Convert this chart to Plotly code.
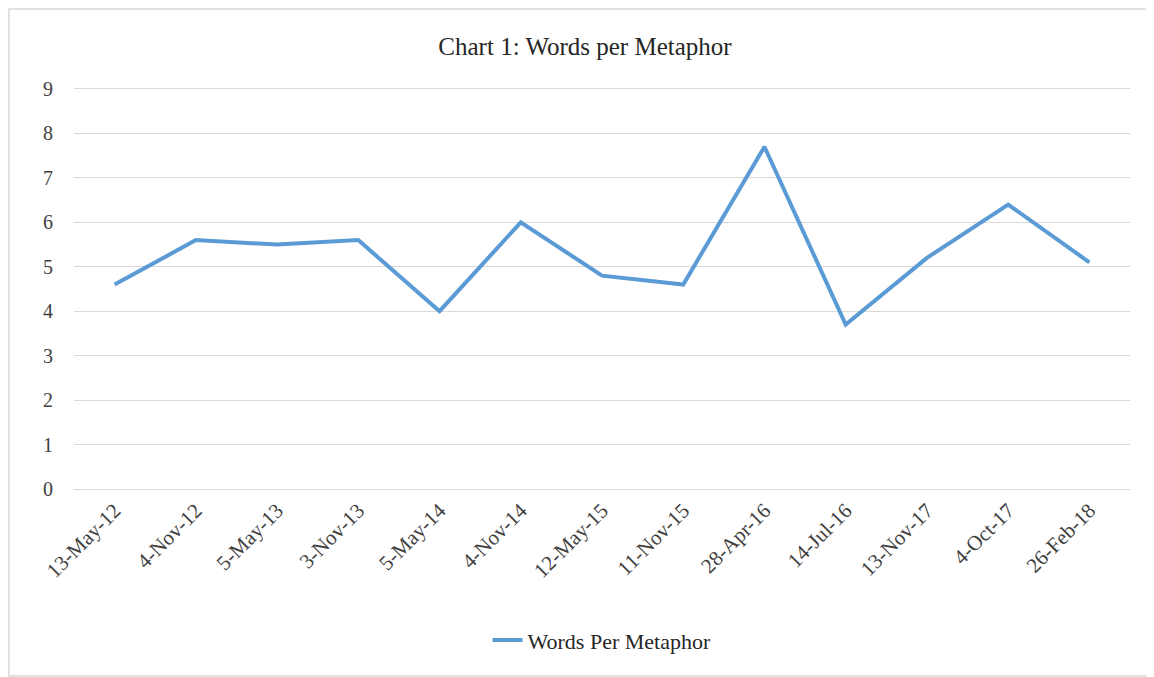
import plotly.graph_objs as go

dates = ['13-May-12', '4-Nov-12', '5-May-13', '3-Nov-13', '5-May-14', '4-Nov-14',
         '12-May-15', '11-Nov-15', '28-Apr-16', '14-Jul-16', '13-Nov-17', '4-Oct-17',
         '26-Feb-18']
words_per_metaphor = [4.6, 5.6, 5.5, 5.6, 4.0, 6.0, 4.8, 4.6, 7.7, 3.7, 5.2, 6.4, 5.1]

font_family = 'Liberation Serif, Times New Roman, serif'

fig = go.Figure()
fig.add_trace(go.Scatter(
    x=dates,
    y=words_per_metaphor,
    mode='lines',
    name='Words Per Metaphor',
    line={'color': '#5B9BD5', 'width': 4},
))

# page body adds an 8px offset, so margins are shifted to compensate
fig.update_layout(
    width=1154,
    height=677,
    margin={'l': 66, 'r': 32, 't': 81, 'b': 196},
    paper_bgcolor='white',
    plot_bgcolor='white',
    font={'family': font_family, 'size': 20, 'color': '#404040'},
    title={
        'text': 'Chart 1: Words per Metaphor',
        'x': 0.5, 'xanchor': 'center',
        'y': 0.944, 'yanchor': 'middle',
        'font': {'family': font_family, 'size': 25, 'color': '#262626'},
    },
    xaxis={
        'type': 'category',
        'range': [-0.5, len(dates) - 0.5],
        'tickangle': -45,
        'showgrid': False,
        'showline': True,
        'mirror': True,
        'linecolor': '#D9D9D9',
        'linewidth': 1,
        'zeroline': False,
        'ticks': '',
        'tickfont': {'family': font_family, 'size': 21, 'color': '#404040'},
    },
    yaxis={
        'range': [0, 9],
        'dtick': 1,
        'showgrid': True,
        'gridcolor': '#D9D9D9',
        'gridwidth': 1,
        'zeroline': False,
        'showline': False,
        'ticks': 'outside',
        'ticklen': 16,
        'tickcolor': 'rgba(0,0,0,0)',
        'tickfont': {'family': font_family, 'size': 20, 'color': '#404040'},
    },
    showlegend=True,
    legend={
        'orientation': 'h',
        'x': 0.5, 'xanchor': 'center',
        'y': -0.378, 'yanchor': 'middle',
        'font': {'family': font_family, 'size': 22, 'color': '#262626'},
    },
    shapes=[{
        'type': 'rect', 'xref': 'paper', 'yref': 'paper',
        'x0': -0.0616, 'x1': 1.0208, 'y0': -0.4675, 'y1': 1.2,
        'line': {'color': '#D9D9D9', 'width': 1.5},
    }],
)

fig.write_html("out.html")
